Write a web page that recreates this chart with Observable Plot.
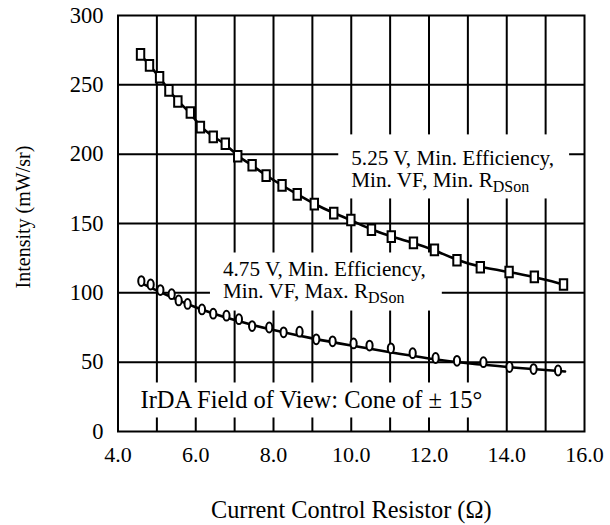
<!DOCTYPE html>
<html>
<head>
<meta charset="utf-8">
<script src="https://cdn.jsdelivr.net/npm/d3@7"></script>
<script src="https://cdn.jsdelivr.net/npm/@observablehq/plot@0.6"></script>
<style>
  body { margin: 0; background: #fff; }
  svg { display: block; }
  #chart svg, #chart svg text, #chart svg tspan { font-family: "Liberation Serif", "Times New Roman", serif !important; }
</style>
</head>
<body>
<div id="chart"></div>
<script>
// ---- data ----
const hiX = [4.58, 4.81, 5.07, 5.31, 5.54, 5.86, 6.12, 6.45, 6.76, 7.08, 7.45, 7.81, 8.22, 8.61, 9.05, 9.55, 9.99, 10.52, 11.03, 11.60, 12.14, 12.72, 13.32, 14.06, 14.71, 15.46];
const hiY = [272, 264, 255.5, 246, 238, 230, 219.5, 212.5, 207.5, 198.5, 192, 184.5, 177.5, 171, 164, 157.5, 152.5, 145.5, 140.5, 136, 131, 123.5, 118.5, 115, 111.5, 106];

const loX = [4.60, 4.84, 5.09, 5.38, 5.56, 5.79, 6.16, 6.45, 6.79, 7.11, 7.45, 7.89, 8.26, 8.67, 9.10, 9.52, 10.06, 10.47, 11.02, 11.58, 12.17, 12.72, 13.40, 14.07, 14.69, 15.32];
const loY = [108.5, 106, 102, 99, 94.5, 92, 88, 85, 83.5, 81, 76, 75, 71.5, 72, 66.5, 65, 63.5, 62, 60, 56.5, 53, 51, 50, 46.5, 45, 44];

const loFitX = [4.6, 5, 6, 7, 8, 9, 10, 11, 12, 13, 14, 15.5];
const loFitY = [107, 101.5, 89, 80, 73, 67, 62, 57, 52.5, 49, 46.5, 43.3];

const xTicks = [4, 6, 8, 10, 12, 14, 16];
const xGrid = [5, 6, 7, 8, 9, 10, 11, 12, 13, 14, 15];
const yTicks = [0, 50, 100, 150, 200, 250, 300];
const yGrid = [50, 100, 150, 200, 250];

const annoText = ["5.25 V, Min. Efficiency,\nMin. VF, Min. R_DSon", "4.75 V, Min. Efficiency,\nMin. VF, Max. R_DSon"];
const annoX = [10.0, 6.70];
const annoY = [176, 96.6];
const noteText = ["IrDA Field of View: Cone of \u00B1 15\u00B0"];
const noteX = [4.58];
const noteY = [16.6];

const xLabel = "Current Control Resistor (\u03A9)";
const yLabel = "Intensity (mW/sr)";

const FONT = "'Liberation Serif', 'Times New Roman', serif";

// ---- custom marker shapes ----
const tallSquare = {
  draw(ctx) {
    const w = 3.7, h = 5.3;
    ctx.moveTo(-w, -h); ctx.lineTo(w, -h); ctx.lineTo(w, h); ctx.lineTo(-w, h); ctx.closePath();
  }
};
const tallEllipse = {
  draw(ctx) {
    const a = 3.1, b = 4.9, k = 0.5523;
    ctx.moveTo(0, -b);
    ctx.bezierCurveTo(k * a, -b, a, -k * b, a, 0);
    ctx.bezierCurveTo(a, k * b, k * a, b, 0, b);
    ctx.bezierCurveTo(-k * a, b, -a, k * b, -a, 0);
    ctx.bezierCurveTo(-a, -k * b, -k * a, -b, 0, -b);
    ctx.closePath();
  }
};

const idx = (arr) => d3.range(arr.length);

const plot = Plot.plot({
  width: 610,
  height: 525,
  marginLeft: 117.5,
  marginRight: 26,
  marginTop: 15,
  marginBottom: 94,
  style: { fontFamily: FONT, background: "white", color: "black", fontSize: "22px" },
  x: { domain: [4, 16] },
  y: { domain: [0, 300] },
  marks: [
    Plot.ruleX(xGrid, { stroke: "black", strokeWidth: 2 }),
    Plot.ruleY(yGrid, { stroke: "black", strokeWidth: 2 }),
    Plot.text(annoText, {
      x: (d, i) => annoX[i], y: (d, i) => annoY[i], text: d => d,
      textAnchor: "start", lineAnchor: "bottom", lineHeight: 1.04, fontSize: 21.2, fontFamily: FONT,
      ariaDescription: "anno"
    }),
    Plot.text(noteText, {
      x: (d, i) => noteX[i], y: (d, i) => noteY[i], text: d => d,
      textAnchor: "start", lineAnchor: "bottom", fontSize: 24.5, fontFamily: FONT,
      ariaDescription: "note"
    }),
    Plot.line(idx(hiX), { x: i => hiX[i], y: i => hiY[i], curve: "basis", stroke: "black", strokeWidth: 2.6 }),
    Plot.line(idx(loFitX), { x: i => loFitX[i], y: i => loFitY[i], curve: "basis", stroke: "black", strokeWidth: 2.6 }),
    Plot.dot(idx(hiX), { x: i => hiX[i], y: i => hiY[i], symbol: tallSquare, fill: "white", stroke: "black", strokeWidth: 2 }),
    Plot.dot(idx(loX), { x: i => loX[i], y: i => loY[i], symbol: tallEllipse, fill: "white", stroke: "black", strokeWidth: 2 }),
    Plot.frame({ stroke: "black", strokeWidth: 2 }),
    Plot.axisX(xTicks, { tickSize: 0, tickPadding: 15, tickFormat: d => d.toFixed(1), fontSize: 22, fontFamily: FONT, label: null }),
    Plot.axisY(yTicks, { tickSize: 0, tickPadding: 14.5, fontSize: 22.5, fontFamily: FONT, label: null }),
    Plot.text([xLabel], { frameAnchor: "bottom", dy: 86, lineAnchor: "bottom", fontSize: 24.3, fontFamily: FONT }),
    Plot.text([yLabel], { frameAnchor: "left", textAnchor: "middle", rotate: -90, dx: -88.5, dy: -6.5, lineAnchor: "bottom", fontSize: 20, fontFamily: FONT })
  ]
});

document.getElementById("chart").appendChild(plot);

// subscripts and white boxes behind annotations
const svgNS = "http://www.w3.org/2000/svg";
function boxify(desc, pads) {
  const g = plot.querySelector(`g[aria-description="${desc}"]`);
  if (!g) return;
  const texts = Array.from(g.querySelectorAll("text"));
  texts.forEach((t, i) => {
    t.querySelectorAll("tspan").forEach(ts => {
      if (ts.textContent.includes("R_DSon")) {
        ts.textContent = ts.textContent.replace("R_DSon", "R");
        const sub = document.createElementNS(svgNS, "tspan");
        sub.setAttribute("dy", "5");
        sub.setAttribute("font-size", "16");
        sub.textContent = "DSon";
        ts.appendChild(sub);
      }
    });
    const b = t.getBBox();
    const [pt, pr, pb, pl] = pads[i];
    const r = document.createElementNS(svgNS, "rect");
    r.setAttribute("x", b.x - pl);
    r.setAttribute("y", b.y - pt);
    r.setAttribute("width", b.width + pl + pr);
    r.setAttribute("height", b.height + pt + pb);
    r.setAttribute("fill", "white");
    if (t.getAttribute("transform")) r.setAttribute("transform", t.getAttribute("transform"));
    g.insertBefore(r, t);
  });
}
boxify("anno", [[12, 15, 3, 13], [4, 16, 5, 13]]);
boxify("note", [[4, 7, 4, 6]]);
</script>
</body>
</html>
